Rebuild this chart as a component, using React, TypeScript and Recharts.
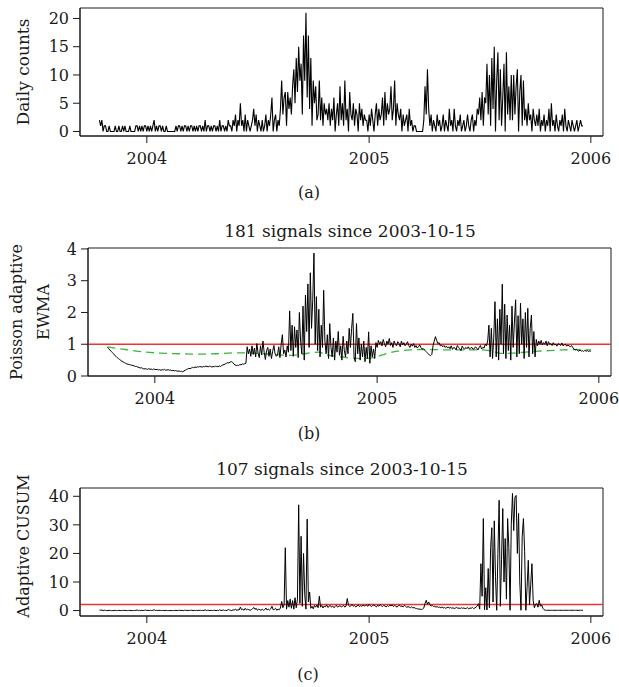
import { LineChart, Line, XAxis, YAxis, ReferenceLine, ReferenceArea } from 'recharts';

// days are counted from 2004-01-01; series start on 2003-10-15, one value every 2 days
const START_DAY = -78;
const STEP_DAYS = 2;
const X_DOMAIN: [number, number] = [-110, 751];

const yearTicks = [0, 366, 731];
const yearLabels = ['2004', '2005', '2006'];

const dailyCounts = [
    2, 1, 2, 0, 1, 1, 0, 0, 1, 0, 0, 0, 0, 1, 0, 0, 1, 0, 0, 1,
    0, 1, 0, 0, 0, 1, 0, 0, 0, 0, 1, 1, 0, 1, 0, 1, 0, 1, 1, 0,
    1, 0, 1, 0, 1, 2, 0, 1, 0, 1, 1, 0, 1, 0, 0, 1, 0, 0, 0, 0,
    0, 0, 0, 1, 0, 1, 1, 0, 1, 0, 1, 1, 0, 1, 0, 1, 1, 0, 1, 0,
    1, 0, 1, 1, 0, 1, 0, 2, 0, 1, 1, 0, 1, 0, 1, 1, 0, 1, 0, 2,
    0, 1, 1, 0, 1, 0, 2, 1, 1, 0, 2, 1, 3, 0, 2, 1, 5, 1, 2, 0,
    3, 0, 2, 1, 0, 1, 2, 4, 1, 3, 0, 2, 1, 0, 2, 0, 1, 3, 0, 2,
    1, 3, 6, 0, 2, 3, 0, 2, 1, 4, 9, 3, 6, 7, 1, 7, 4, 6, 3, 8,
    11, 5, 13, 7, 15, 9, 12, 3, 17, 9, 21, 6, 17, 4, 13, 1, 9, 5, 8, 2,
    3, 9, 2, 6, 1, 5, 3, 4, 2, 5, 1, 4, 2, 6, 0, 3, 5, 1, 8, 2,
    5, 1, 9, 2, 4, 0, 7, 3, 2, 5, 1, 4, 3, 0, 5, 2, 4, 1, 3, 2,
    2, 0, 3, 1, 4, 2, 0, 3, 5, 1, 4, 2, 3, 6, 1, 7, 2, 5, 3, 4,
    8, 2, 4, 9, 1, 5, 3, 2, 4, 0, 3, 1, 2, 3, 0, 4, 1, 2, 0, 1,
    1, 0, 0, 0, 0, 0, 0, 2, 8, 3, 11, 4, 1, 3, 0, 2, 1, 0, 3, 1,
    2, 0, 1, 3, 0, 2, 1, 0, 4, 1, 2, 0, 4, 1, 0, 2, 1, 3, 0, 1,
    2, 0, 1, 3, 1, 0, 2, 3, 0, 2, 1, 4, 3, 6, 2, 7, 1, 6, 5, 12,
    3, 10, 1, 13, 4, 15, 0, 9, 14, 2, 11, 1, 6, 12, 0, 14, 3, 8, 2, 10,
    2, 10, 3, 8, 11, 0, 7, 10, 1, 9, 2, 4, 1, 5, 2, 3, 0, 4, 2, 1,
    3, 1, 4, 0, 2, 1, 3, 0, 2, 1, 4, 0, 5, 1, 2, 0, 3, 1, 0, 2,
    1, 3, 0, 4, 1, 0, 2, 1, 0, 2, 1, 0, 1, 2, 0, 1, 2, 1, 1,
];

const ewmaValues = [
    0.90, 0.86, 0.82, 0.78, 0.74, 0.70, 0.65, 0.62, 0.58, 0.55, 0.52, 0.49, 0.46, 0.44, 0.42, 0.40, 0.38, 0.37, 0.36, 0.35,
    0.34, 0.33, 0.32, 0.30, 0.30, 0.28, 0.27, 0.25, 0.26, 0.24, 0.22, 0.23, 0.22, 0.21, 0.23, 0.21, 0.22, 0.20, 0.22, 0.21,
    0.20, 0.21, 0.19, 0.20, 0.18, 0.20, 0.19, 0.21, 0.18, 0.19, 0.20, 0.18, 0.19, 0.17, 0.18, 0.16, 0.17, 0.16, 0.15, 0.16,
    0.14, 0.15, 0.13, 0.16, 0.18, 0.20, 0.22, 0.24, 0.23, 0.25, 0.27, 0.26, 0.28, 0.27, 0.29, 0.28, 0.30, 0.29, 0.28, 0.30,
    0.29, 0.31, 0.30, 0.29, 0.31, 0.30, 0.28, 0.30, 0.29, 0.31, 0.30, 0.29, 0.32, 0.30, 0.33, 0.35, 0.36, 0.38, 0.40, 0.42,
    0.41, 0.44, 0.45, 0.43, 0.38, 0.35, 0.33, 0.34, 0.33, 0.36, 0.35, 0.38, 0.37, 0.39, 0.40, 0.92, 0.70, 0.85, 0.62, 0.95,
    0.68, 0.88, 0.60, 1.02, 0.72, 0.58, 0.95, 0.66, 1.10, 0.75, 0.52, 0.80, 0.90, 0.62, 0.85, 0.55, 0.78, 0.96, 0.70, 0.62,
    0.66, 0.92, 0.58, 1.00, 1.30, 0.70, 0.82, 0.60, 0.95, 0.75, 2.05, 0.80, 1.60, 0.62, 1.55, 0.90, 1.45, 0.58, 2.00, 1.10,
    0.70, 2.20, 0.50, 2.55, 1.40, 2.90, 0.90, 3.25, 1.50, 2.40, 3.87, 1.00, 2.50, 0.80, 2.10, 0.60, 1.60, 0.90, 2.70, 1.10,
    0.70, 1.30, 0.55, 1.65, 0.90, 0.60, 1.20, 0.50, 1.10, 0.75, 1.40, 0.65, 0.95, 0.50, 1.25, 0.80, 0.60, 1.10, 0.70, 1.50,
    0.90, 1.50, 1.97, 0.60, 0.45, 1.65, 0.70, 1.20, 0.50, 1.00, 0.60, 1.10, 0.45, 0.90, 0.55, 1.39, 0.40, 0.95, 0.60, 0.85,
    0.55, 1.05, 0.90, 1.12, 1.00, 1.08, 0.95, 1.15, 1.02, 0.92, 1.10, 1.00, 1.18, 0.96, 1.05, 0.90, 1.10, 1.00, 0.95, 1.08,
    1.02, 0.92, 1.10, 0.98, 1.05, 0.95, 1.00, 1.08, 0.96, 0.90, 1.00, 0.94, 1.02, 0.90, 0.96, 0.88, 0.92, 0.98, 0.90, 0.85,
    0.86, 0.82, 0.78, 0.74, 0.70, 0.66, 0.64, 0.68, 0.95, 1.10, 1.24, 1.12, 1.02, 1.05, 0.95, 0.98, 0.92, 0.96, 0.90, 0.94,
    0.88, 0.92, 0.86, 0.95, 0.84, 0.90, 0.88, 0.82, 0.96, 0.90, 0.86, 0.80, 0.94, 0.88, 0.84, 0.90, 0.86, 0.92, 0.85, 0.88,
    0.90, 0.84, 0.86, 0.92, 0.88, 0.82, 0.90, 0.96, 0.85, 0.90, 0.88, 1.00, 0.95, 1.10, 1.60, 0.60, 1.50, 0.55, 1.20, 2.34,
    0.60, 1.80, 0.50, 2.10, 1.00, 2.89, 0.70, 2.26, 0.55, 1.92, 0.80, 1.60, 0.50, 2.20, 0.90, 1.70, 2.40, 0.60, 1.90, 0.70,
    2.29, 1.00, 1.80, 0.55, 2.00, 0.90, 2.13, 0.60, 1.50, 1.92, 0.70, 1.40, 0.60, 1.15, 0.95, 1.10, 1.00, 1.12, 0.98, 1.05,
    1.00, 1.10, 0.95, 1.08, 1.00, 1.02, 0.96, 1.05, 0.98, 1.00, 0.94, 1.02, 1.00, 0.96, 1.04, 0.95, 0.98, 1.00, 0.94, 0.97,
    0.95, 0.92, 0.96, 0.90, 0.85, 0.82, 0.84, 0.80, 0.78, 0.82, 0.78, 0.80, 0.77, 0.81, 0.78, 0.80, 0.77, 0.79, 0.78,
];

// expected level (green dashed), read at coarser dates
const expectedDays = [-78, -60, -40, -20, 0, 20, 40, 60, 80, 100, 120, 140, 160, 180, 200, 220, 240, 260, 270, 280, 300, 320, 340, 360, 380, 400, 420, 440, 460, 480, 500, 520, 540, 555, 570, 590, 610, 630, 650, 670, 690, 718];
const expectedValues = [0.92, 0.86, 0.81, 0.76, 0.73, 0.71, 0.70, 0.69, 0.69, 0.70, 0.72, 0.73, 0.72, 0.70, 0.67, 0.65, 0.68, 0.74, 0.75, 0.68, 0.62, 0.57, 0.55, 0.58, 0.70, 0.78, 0.82, 0.83, 0.83, 0.82, 0.82, 0.82, 0.82, 0.78, 0.71, 0.72, 0.75, 0.78, 0.80, 0.82, 0.83, 0.82];

const cusumValues = [
    0.2, 0.1, 0.2, 0, 0.1, 0.1, 0, 0, 0.1, 0, 0, 0, 0, 0.1, 0, 0, 0.1, 0, 0, 0.1,
    0, 0.1, 0, 0, 0, 0.1, 0, 0, 0, 0, 0.1, 0.2, 0, 0.1, 0, 0.1, 0, 0.1, 0.2, 0,
    0.1, 0, 0.1, 0, 0.1, 0.3, 0, 0.1, 0, 0.1, 0.1, 0, 0.1, 0, 0, 0.1, 0, 0, 0, 0,
    0, 0, 0, 0.1, 0, 0.1, 0.1, 0, 0.1, 0, 0.1, 0.1, 0, 0.1, 0, 0.1, 0.1, 0, 0.1, 0,
    0.1, 0, 0.1, 0.1, 0, 0.1, 0, 0.3, 0, 0.1, 0.1, 0, 0.1, 0, 0.1, 0.1, 0, 0.1, 0, 0.3,
    0, 0.1, 0.2, 0, 0.1, 0, 0.4, 0.2, 0.1, 0, 0.3, 0.1, 0.6, 0, 0.3, 0.2, 1.2, 0.3, 0.5, 0.1,
    0.8, 0.2, 0.5, 0.3, 0.1, 0.3, 0.6, 1.1, 0.4, 0.8, 0.1, 0.5, 0.3, 0.1, 0.5, 0.1, 0.3, 0.9, 0.2, 0.5,
    0.2, 0.6, 1.5, 0.3, 0.4, 0.8, 0.1, 0.5, 0.3, 0.9, 3.2, 1.0, 2.0, 22.0, 0.5, 3.5, 1.2, 4.0, 0.8, 3.5,
    0.5, 4.5, 1.0, 4.0, 37.0, 2.5, 26.0, 1.5, 20.0, 5.5, 0.5, 32.0, 3.0, 6.5, 0.8, 1.5, 0.6, 1.8, 1.2, 2.0,
    1.0, 5.0, 1.2, 1.8, 0.9, 1.6, 1.3, 2.0, 1.1, 1.5, 1.8, 1.2, 1.6, 1.0, 1.4, 1.9, 1.2, 1.5, 1.7, 1.3,
    1.5, 1.8, 1.2, 1.6, 4.2, 1.9, 1.4, 1.7, 2.1, 1.5, 1.8, 1.3, 1.6, 2.0, 1.4, 1.7, 1.5, 1.9, 1.6, 1.8,
    1.9, 1.5, 2.2, 1.7, 1.4, 1.8, 2.0, 1.6, 1.3, 1.9, 1.5, 2.1, 1.7, 1.4, 1.8, 1.6, 1.3, 1.7, 1.5, 1.9,
    1.6, 2.0, 1.4, 1.8, 1.5, 1.2, 1.7, 1.9, 1.4, 1.6, 1.3, 1.8, 1.5, 1.1, 1.4, 1.2, 1.0, 1.3, 0.9, 1.1,
    0.8, 0.7, 0.6, 0.5, 0.5, 0.4, 0.5, 0.9, 2.5, 3.6, 2.2, 3.0, 2.0, 1.6, 1.8, 1.4, 1.5, 1.2, 1.4, 1.1,
    1.2, 1.0, 1.3, 0.9, 1.1, 0.8, 1.0, 1.2, 0.9, 1.1, 0.8, 1.0, 0.7, 0.9, 1.1, 0.8, 0.9, 0.7, 1.0, 0.8,
    0.9, 0.7, 0.8, 1.0, 0.6, 0.9, 0.8, 1.1, 0.7, 0.9, 1.2, 1.6, 2.4, 0.5, 16.4, 5.0, 32.2, 0.3, 8.0, 0.2,
    14.7, 1.0, 22.0, 29.0, 3.0, 31.4, 12.0, 0.1, 20.0, 38.6, 1.5, 18.0, 35.7, 10.0, 25.2, 4.0, 32.2, 22.0, 0.1, 30.0,
    41.0, 28.0, 39.7, 40.3, 20.0, 34.0, 10.0, 0.1, 26.0, 32.2, 20.6, 0.1, 8.0, 17.6, 2.0, 9.0, 16.4, 3.6, 1.0, 2.2,
    2.4, 1.2, 3.6, 1.5, 2.0, 0.8, 0.3, 0.1, 0.1, 0.1, 0.1, 0.1, 0.1, 0.1, 0.1, 0.1, 0.1, 0.1, 0.1, 0.1,
    0.1, 0.1, 0.1, 0.1, 0.1, 0.1, 0.1, 0.1, 0.1, 0.1, 0.1, 0.1, 0.1, 0.1, 0.1, 0.1, 0.1, 0.1, 0.1,
];

const EWMA_LIMIT = 1;
const CUSUM_LIMIT = 2.1;

const toSeries = (values: number[]) => values.map((v, i) => ({ d: START_DAY + i * STEP_DAYS, v }));

const countSeries = toSeries(dailyCounts);
const ewmaSeries = toSeries(ewmaValues);
const cusumSeries = toSeries(cusumValues);
const expectedSeries = expectedDays.map((d, i) => ({ d, v: expectedValues[i] }));

const FONT = "'DejaVu Serif', serif";
const INK = '#1a1a1a';
const tickStyle = { fill: INK, fontSize: 16, fontFamily: FONT };
const yearFormat = (d: number) => yearLabels[yearTicks.indexOf(d)] ?? '';

// axes plus the R-style box around the plotting region
function panelAxes(yDomain: [number, number], yTicks: number[], yWidth: number) {
    return [
        <XAxis
            key="x"
            dataKey="d"
            type="number"
            domain={X_DOMAIN}
            ticks={yearTicks}
            tickFormatter={yearFormat}
            tick={tickStyle}
            tickSize={7}
            tickMargin={10}
            height={44}
            axisLine={{ stroke: INK }}
            tickLine={{ stroke: INK }}
            allowDataOverflow
        />,
        <YAxis
            key="y"
            type="number"
            domain={yDomain}
            ticks={yTicks}
            tick={tickStyle}
            tickSize={7}
            tickMargin={4}
            width={yWidth}
            axisLine={{ stroke: INK }}
            tickLine={{ stroke: INK }}
            allowDataOverflow
        />,
        <ReferenceArea
            key="box"
            x1={X_DOMAIN[0]}
            x2={X_DOMAIN[1]}
            y1={yDomain[0]}
            y2={yDomain[1]}
            fill="none"
            fillOpacity={0}
            stroke={INK}
            strokeWidth={1}
            ifOverflow="visible"
        />,
    ];
}

const textAt = (x: number, y: number, size = 16, rotate = false): React.CSSProperties => ({
    position: 'absolute',
    left: x,
    top: y,
    transform: `translate(-50%, -50%)${rotate ? ' rotate(-90deg)' : ''}`,
    whiteSpace: 'nowrap',
    fontFamily: FONT,
    fontSize: size,
    lineHeight: 1,
    color: INK,
});

export default function App() {
    return (
        <div style={{ position: 'absolute', left: 0, top: 0, width: 619, height: 687, background: '#fff' }}>
            {/* (a) daily counts */}
            <div style={{ position: 'absolute', left: 0, top: 0 }}>
                <LineChart width={619} height={180} margin={{ top: 8, right: 16, bottom: 0, left: 0 }}>
                    {panelAxes([-0.8, 21.85], [0, 5, 10, 15, 20], 80)}
                    <Line data={countSeries} dataKey="v" stroke="#000" strokeWidth={1.1} dot={false} isAnimationActive={false} />
                </LineChart>
            </div>
            <div style={textAt(23, 72, 17, true)}>Daily counts</div>
            <div style={textAt(309, 193)}>(a)</div>

            {/* (b) Poisson adaptive EWMA */}
            <div style={textAt(350, 231, 17)}>181 signals since 2003-10-15</div>
            <div style={{ position: 'absolute', left: 0, top: 200 }}>
                <LineChart width={619} height={220} margin={{ top: 48, right: 8, bottom: 0, left: 0 }}>
                    {panelAxes([0, 4.03], [0, 1, 2, 3, 4], 88)}
                    <ReferenceLine y={EWMA_LIMIT} stroke="#ee3333" strokeWidth={1.5} />
                    <Line data={expectedSeries} dataKey="v" type="monotone" stroke="#3cb43c" strokeWidth={1.3} strokeDasharray="8 5" dot={false} isAnimationActive={false} />
                    <Line data={ewmaSeries} dataKey="v" stroke="#000" strokeWidth={1} dot={false} isAnimationActive={false} />
                </LineChart>
            </div>
            <div style={textAt(17, 312, 16, true)}>Poisson adaptive</div>
            <div style={textAt(44, 312, 16, true)}>EWMA</div>
            <div style={textAt(309, 434)}>(b)</div>

            {/* (c) adaptive CUSUM */}
            <div style={textAt(342, 469, 17)}>107 signals since 2003-10-15</div>
            <div style={{ position: 'absolute', left: 0, top: 440 }}>
                <LineChart width={619} height={220} margin={{ top: 48, right: 16, bottom: 0, left: 0 }}>
                    {panelAxes([-1.9, 42.9], [0, 10, 20, 30, 40], 80)}
                    <ReferenceLine y={CUSUM_LIMIT} stroke="#ee3333" strokeWidth={1.5} />
                    <Line data={cusumSeries} dataKey="v" stroke="#000" strokeWidth={1} dot={false} isAnimationActive={false} />
                </LineChart>
            </div>
            <div style={textAt(24, 546, 16, true)}>Adaptive CUSUM</div>
            <div style={textAt(308, 675)}>(c)</div>
        </div>
    );
}
